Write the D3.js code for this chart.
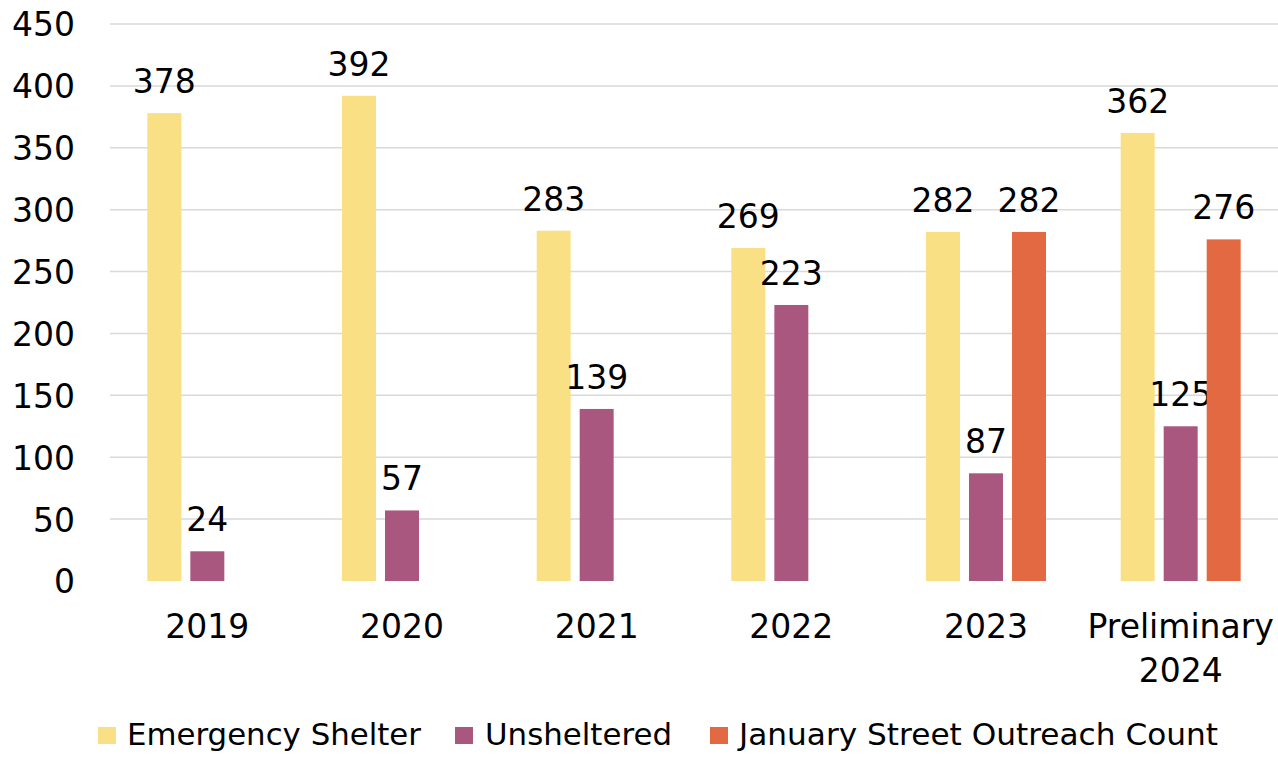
<!DOCTYPE html>
<html>
<head>
<meta charset="utf-8">
<script src="https://cdn.jsdelivr.net/npm/d3@7"></script>
<style>
  body { margin: 0; background: #fff; }
  svg text { font-family: "DejaVu Sans", sans-serif; fill: #000; }
</style>
</head>
<body>
<div id="chart"></div>
<script>
// Data
const years = ["2019", "2020", "2021", "2022", "2023", "Preliminary 2024"];
const seriesNames = ["Emergency Shelter", "Unsheltered", "January Street Outreach Count"];
const shelter = [378, 392, 283, 269, 282, 362];
const unsheltered = [24, 57, 139, 223, 87, 125];
const outreach = [null, null, null, null, 282, 276];
const yTicks = [0, 50, 100, 150, 200, 250, 300, 350, 400, 450];

const colors = ["#FAE084", "#A9577F", "#E36942"];
const seriesValues = [shelter, unsheltered, outreach];

const W = 1278, H = 757;
const margin = {top: 24, right: 0, bottom: 176, left: 110};
const width = W - margin.left - margin.right,
      height = H - margin.top - margin.bottom;

const svg = d3.select("#chart")
    .append("svg")
        .attr("width", W)
        .attr("height", H);

const g = svg.append("g")
    .attr("transform", "translate(" + margin.left + "," + margin.top + ")");

// Scales
const x0 = d3.scaleBand()
    .domain(years)
    .range([0, width]);

const bw = x0.bandwidth();
const x1 = d3.scaleBand()
    .domain(seriesNames)
    .range([bw / 2 - 60, bw / 2 + 60])
    .paddingInner(0.21);

const y = d3.scaleLinear()
    .domain([0, 450])
    .range([height, 0]);

// Gridlines
g.selectAll(".grid")
    .data(yTicks.filter(d => d > 0))
    .enter().append("line")
        .attr("x1", 0)
        .attr("x2", width)
        .attr("y1", d => y(d))
        .attr("y2", d => y(d))
        .attr("stroke", "#d9d9d9")
        .attr("stroke-width", 1.5);

// Y axis labels
const yAxis = g.append("g")
    .call(d3.axisLeft(y).tickValues(yTicks).tickSize(0).tickPadding(35));
yAxis.select(".domain").remove();
yAxis.selectAll("text")
    .style("font-family", "DejaVu Sans")
    .style("font-size", "33px")
    .attr("dy", "0.36em");

// Bars
seriesNames.forEach(function(name, si) {
    const rows = years.map((yr, i) => ({year: yr, value: seriesValues[si][i]}))
        .filter(d => d.value != null);

    g.selectAll(".bar-" + si)
        .data(rows)
        .enter().append("rect")
            .attr("x", d => x0(d.year) + x1(name))
            .attr("y", d => y(d.value))
            .attr("width", x1.bandwidth())
            .attr("height", d => height - y(d.value))
            .attr("fill", colors[si]);

    g.selectAll(".label-" + si)
        .data(rows)
        .enter().append("text")
            .attr("x", d => x0(d.year) + x1(name) + x1.bandwidth() / 2)
            .attr("y", d => y(d.value) - 20)
            .attr("text-anchor", "middle")
            .style("font-size", "33px")
            .text(d => d.value);
});

// X axis labels
years.forEach(function(yr) {
    const words = yr.split(" ");
    const t = g.append("text")
        .attr("x", x0(yr) + bw / 2)
        .attr("y", height + 57)
        .attr("text-anchor", "middle")
        .style("font-size", "33px");
    words.forEach(function(w, i) {
        t.append("tspan")
            .attr("x", x0(yr) + bw / 2)
            .attr("dy", i === 0 ? 0 : 44)
            .text(w);
    });
});

// Legend
const legendX = [98, 455, 710];
const legendTextX = [127, 485, 739];
const legendLen = [294, 187, 479];
const legend = svg.append("g").attr("class", "legend");
seriesNames.forEach(function(name, i) {
    legend.append("rect")
        .attr("x", legendX[i])
        .attr("y", 727)
        .attr("width", 18)
        .attr("height", 17)
        .attr("fill", colors[i]);
    legend.append("text")
        .attr("x", legendTextX[i])
        .attr("y", 745)
        .attr("textLength", legendLen[i])
        .attr("lengthAdjust", "spacingAndGlyphs")
        .style("font-size", "31px")
        .text(name);
});
</script>
</body>
</html>
